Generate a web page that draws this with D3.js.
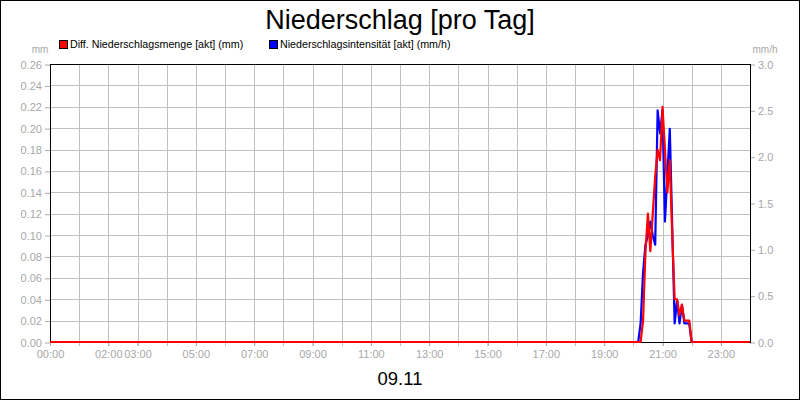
<!DOCTYPE html>
<html>
<head>
<meta charset="utf-8">
<script src="https://cdn.jsdelivr.net/npm/d3@7"></script>
<style>
  body { margin: 0; background: #fff; }
  svg { display: block; font-family: "Liberation Sans", Arial, sans-serif; }
  .axis text { fill: #a8a8a8; font-size: 11px; }
  .axis line { stroke: #a8a8a8; }
</style>
</head>
<body>
<svg width="800" height="400"></svg>
<script>
// Data (time in minutes since 00:00, 5-minute steps during the shower)
const times = [0, 1210, 1215, 1220, 1225, 1230, 1235, 1240, 1245, 1250, 1255, 1260, 1265,
  1270, 1275, 1280, 1285, 1290, 1295, 1300, 1305, 1310, 1315, 1320, 1440];
// Diff. Niederschlagsmenge [akt] (mm)
const mengeValues = [0, 0, 0, 0.02, 0.085, 0.12, 0.085, 0.12, 0.155, 0.18, 0.17, 0.22, 0.18,
  0.14, 0.17, 0.10, 0.04, 0.04, 0.025, 0.035, 0.02, 0.02, 0.02, 0, 0];
// Niederschlagsintensität [akt] (mm/h)
const intensValues = [0, 0, 0.2, 0.75, 1.05, 1.15, 1.3, 1.15, 1.05, 2.5, 2.25, 2.5, 1.3,
  1.8, 2.3, 1.25, 0.2, 0.45, 0.2, 0.4, 0.2, 0.2, 0.2, 0, 0];

const xTickHours = [0, 2, 3, 5, 7, 9, 11, 13, 15, 17, 19, 21, 23];
const xTickLabels = ["00:00", "02:00", "03:00", "05:00", "07:00", "09:00", "11:00",
  "13:00", "15:00", "17:00", "19:00", "21:00", "23:00"];
const leftTicks = [0, 0.02, 0.04, 0.06, 0.08, 0.10, 0.12, 0.14, 0.16, 0.18, 0.20, 0.22, 0.24, 0.26];
const rightTicks = [0, 0.5, 1.0, 1.5, 2.0, 2.5, 3.0];

const series = [
  { name: "Diff. Niederschlagsmenge [akt] (mm)", values: mengeValues, color: "#ff0000", axis: "left" },
  { name: "Niederschlagsintensität [akt] (mm/h)", values: intensValues, color: "#0000ff", axis: "right" }
];

// Layout
const plot = { left: 50, right: 750, top: 64, bottom: 342 };

const svg = d3.select("svg");

// outer frame
svg.append("rect")
  .attr("x", 0.5).attr("y", 0.5)
  .attr("width", 799).attr("height", 399)
  .attr("fill", "#fff").attr("stroke", "#000");

// Scales
const x = d3.scaleLinear().domain([0, 1440]).range([plot.left, plot.right]);
const yLeft = d3.scaleLinear().domain([0, 0.26]).range([plot.bottom, plot.top]);
const yRight = d3.scaleLinear().domain([0, 3]).range([plot.bottom, plot.top]);

// Grid
const hours = d3.range(1, 24);
svg.append("g")
  .selectAll("line")
  .data(hours)
  .enter()
  .append("line")
  .attr("x1", d => Math.round(x(d * 60)) + 0.5)
  .attr("x2", d => Math.round(x(d * 60)) + 0.5)
  .attr("y1", plot.top)
  .attr("y2", plot.bottom + 4)
  .attr("stroke", "#c0c0c0");

svg.append("g")
  .selectAll("line")
  .data(leftTicks.slice(1, -1))
  .enter()
  .append("line")
  .attr("x1", plot.left)
  .attr("x2", plot.right)
  .attr("y1", d => Math.round(yLeft(d)) + 0.5)
  .attr("y2", d => Math.round(yLeft(d)) + 0.5)
  .attr("stroke", "#c0c0c0");

// Axes
svg.append("g")
  .attr("class", "axis")
  .attr("transform", `translate(${plot.left},0.5)`)
  .call(d3.axisLeft(yLeft).tickValues(leftTicks).tickSize(5).tickPadding(3)
    .tickFormat(d3.format(".2f")))
  .call(g => g.select(".domain").remove());

svg.append("g")
  .attr("class", "axis")
  .attr("transform", `translate(${plot.right},0.5)`)
  .call(d3.axisRight(yRight).tickValues(rightTicks).tickSize(5).tickPadding(3)
    .tickFormat(d3.format(".1f")))
  .call(g => g.select(".domain").remove());

svg.append("g")
  .attr("class", "axis")
  .attr("transform", `translate(0,${plot.bottom})`)
  .call(d3.axisBottom(x).tickValues(xTickHours.map(h => h * 60)).tickSize(4).tickPadding(4)
    .tickFormat((d, i) => xTickLabels[i]))
  .call(g => g.select(".domain").remove());

// Plot frame
svg.append("rect")
  .attr("x", plot.left + 0.5).attr("y", plot.top + 0.5)
  .attr("width", plot.right - plot.left).attr("height", plot.bottom - plot.top)
  .attr("fill", "none").attr("stroke", "#000");

// Lines (blue first, red on top)
[series[1], series[0]].forEach(s => {
  const yScale = s.axis === "left" ? yLeft : yRight;
  const line = d3.line()
    .x((d, i) => x(times[i]))
    .y(d => yScale(d));
  svg.append("path")
    .datum(s.values)
    .attr("d", line)
    .attr("fill", "none")
    .attr("stroke", s.color)
    .attr("stroke-width", 2.2)
    .attr("stroke-linejoin", "round");
});

// Title
svg.append("text")
  .attr("x", 400).attr("y", 29)
  .attr("text-anchor", "middle")
  .style("font-size", "27px")
  .text("Niederschlag [pro Tag]");

// Unit labels
svg.append("text")
  .attr("x", 40).attr("y", 53)
  .attr("text-anchor", "middle")
  .style("font-size", "10px").style("fill", "#a8a8a8")
  .text("mm");
svg.append("text")
  .attr("x", 765).attr("y", 53)
  .attr("text-anchor", "middle")
  .style("font-size", "10px").style("fill", "#a8a8a8")
  .text("mm/h");

// Legend
const legendX = [59, 269];
series.forEach((s, i) => {
  svg.append("rect")
    .attr("x", legendX[i] + 0.5).attr("y", 40.5)
    .attr("width", 8).attr("height", 8)
    .attr("fill", s.color).attr("stroke", "#000");
  svg.append("text")
    .attr("x", legendX[i] + 11).attr("y", 48)
    .style("font-size", "10.7px")
    .text(s.name);
});

// Date label
svg.append("text")
  .attr("x", 400).attr("y", 385)
  .attr("text-anchor", "middle")
  .style("font-size", "18.5px")
  .text("09.11");
</script>
</body>
</html>
